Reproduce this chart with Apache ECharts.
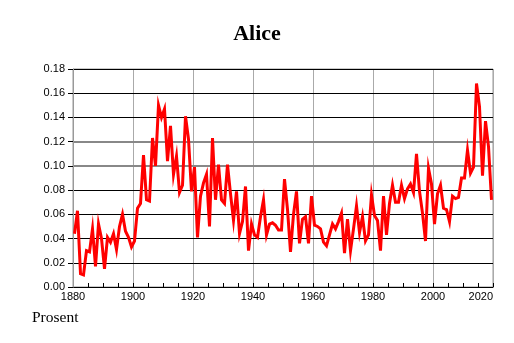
<!DOCTYPE html>
<html>
<head>
<meta charset="utf-8">
<script src="https://cdn.jsdelivr.net/npm/echarts@6/dist/echarts.min.js"></script>
<style>
html,body{margin:0;padding:0;background:#fff;}
#chart{width:514px;height:343px;}
</style>
</head>
<body>
<div id="chart"></div>
<script>
const titleText = 'Alice';
const yAxisTitle = 'Prosent';
const firstYear = 1880;
const percentValues = [
  0.044, 0.063, 0.011, 0.010, 0.030, 0.029, 0.048, 0.017, 0.052, 0.040,
  0.015, 0.041, 0.037, 0.044, 0.031, 0.050, 0.060, 0.046, 0.041, 0.033,
  0.038, 0.065, 0.069, 0.109, 0.072, 0.071, 0.123, 0.100, 0.150, 0.140,
  0.147, 0.104, 0.133, 0.093, 0.108, 0.078, 0.084, 0.141, 0.122, 0.079,
  0.099, 0.041, 0.075, 0.086, 0.093, 0.050, 0.123, 0.072, 0.101, 0.072,
  0.069, 0.101, 0.077, 0.055, 0.079, 0.044, 0.054, 0.083, 0.030, 0.052,
  0.043, 0.041, 0.058, 0.072, 0.043, 0.052, 0.053, 0.051, 0.047, 0.047,
  0.089, 0.064, 0.029, 0.060, 0.079, 0.036, 0.056, 0.058, 0.036, 0.075,
  0.051, 0.050, 0.048, 0.037, 0.034, 0.043, 0.052, 0.048, 0.054, 0.061,
  0.028, 0.056, 0.030, 0.048, 0.067, 0.045, 0.058, 0.038, 0.043, 0.076,
  0.059, 0.055, 0.030, 0.075, 0.043, 0.069, 0.084, 0.070, 0.070, 0.084,
  0.073, 0.081, 0.085, 0.078, 0.110, 0.079, 0.061, 0.038, 0.098, 0.085,
  0.052, 0.077, 0.084, 0.065, 0.064, 0.054, 0.075, 0.073, 0.074, 0.090,
  0.090, 0.113, 0.094, 0.099, 0.168, 0.149, 0.092, 0.137, 0.116, 0.072
];
const years = percentValues.map((v, i) => firstYear + i);
const xTicks = [1880, 1900, 1920, 1940, 1960, 1980, 2000, 2020];
const yTicks = [0, 0.02, 0.04, 0.06, 0.08, 0.10, 0.12, 0.14, 0.16, 0.18];

// annual values are drawn at mid-year
const seriesData = years.map((y, i) => [y + 0.5, percentValues[i]]);

const chart = echarts.init(document.getElementById('chart'), null, {renderer: 'canvas'});
chart.setOption({
  animation: false,
  backgroundColor: '#ffffff',
  title: {
    text: titleText,
    left: 'center',
    top: 18,
    textStyle: {fontFamily: 'Liberation Serif', fontWeight: 'bold', fontSize: 22, color: '#000'}
  },
  graphic: [{
    type: 'text',
    left: 32,
    top: 310,
    style: {text: yAxisTitle, font: '15.5px "Liberation Serif"', fill: '#000'}
  }],
  grid: {
    left: 73, right: 21, top: 69, bottom: 56,
    show: true, borderColor: '#999', borderWidth: 1, backgroundColor: 'transparent'
  },
  xAxis: {
    type: 'value',
    min: xTicks[0],
    max: xTicks[xTicks.length - 1],
    interval: 20,
    z: 0,
    axisLine: {show: true, onZero: false, lineStyle: {color: '#000', width: 1}},
    axisTick: {show: true, inside: true, length: 4, lineStyle: {color: '#000'}},
    minorTick: {show: true, splitNumber: 4, length: 4, lineStyle: {color: '#000'}},
    splitLine: {show: true, lineStyle: {color: '#aaa', width: 1}},
    axisLabel: {
      margin: 4, fontFamily: 'Liberation Sans', fontSize: 11, color: '#000',
      alignMaxLabel: 'right', formatter: v => String(v)
    }
  },
  yAxis: {
    type: 'value',
    min: yTicks[0],
    max: yTicks[yTicks.length - 1],
    interval: 0.02,
    z: 1,
    axisLine: {show: true, lineStyle: {color: '#999', width: 1}},
    axisTick: {show: true, inside: false, length: 5, lineStyle: {color: '#000'}},
    splitLine: {show: true, lineStyle: {color: '#000', width: 1}},
    axisLabel: {
      margin: 8, fontFamily: 'Liberation Sans', fontSize: 11, color: '#000',
      formatter: v => v.toFixed(2)
    }
  },
  series: [{
    type: 'line',
    data: seriesData,
    showSymbol: false,
    symbol: 'none',
    lineStyle: {color: '#ff0000', width: 3, join: 'miter'},
    z: 5,
    markLine: {
      silent: true,
      symbol: 'none',
      label: {show: false},
      lineStyle: {color: '#888', width: 2, type: 'solid'},
      data: [{yAxis: yTicks[5]}, {yAxis: yTicks[6]}],
      z: 1
    }
  }]
});
</script>
</body>
</html>
